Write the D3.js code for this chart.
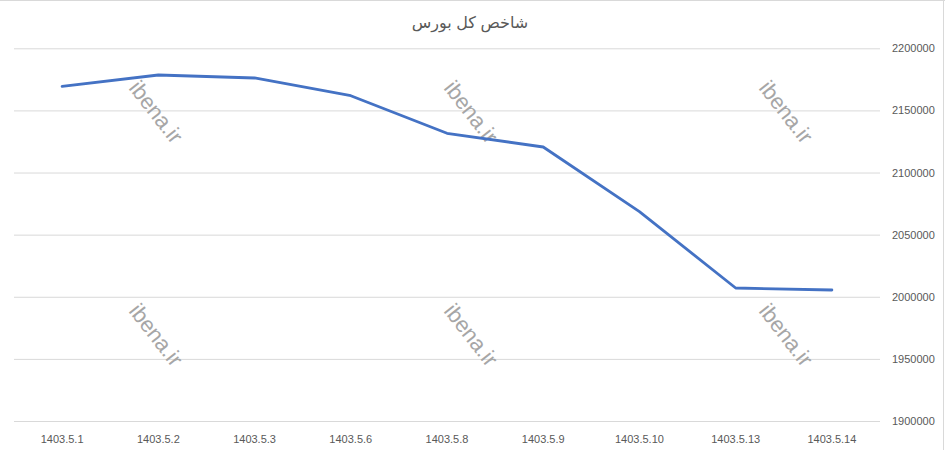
<!DOCTYPE html>
<html>
<head>
<meta charset="utf-8">
<script src="https://cdn.jsdelivr.net/npm/d3@7"></script>
<style>
    body { margin: 0; background: #fff; }
    svg { display: block; }
</style>
</head>
<body>
<div id="chart"></div>
<script>
const title = 'شاخص کل بورس';
const dates = ['1403.5.1', '1403.5.2', '1403.5.3', '1403.5.6', '1403.5.8', '1403.5.9', '1403.5.10', '1403.5.13', '1403.5.14'];
const indexValues = [2169400, 2178500, 2176100, 2161850, 2131600, 2120560, 2068480, 2007070, 2005460];
const yTicks = [1900000, 1950000, 2000000, 2050000, 2100000, 2150000, 2200000];
const watermarkCols = [156, 471, 786];
const watermarkRows = [112, 335];

const W = 945, H = 450;
const plot = { left: 14, right: 880, top: 48.3, bottom: 421 };
const LABEL_FONT = '"Liberation Sans", Arial, sans-serif';

const svg = d3.select('#chart').append('svg')
    .attr('width', W)
    .attr('height', H)
    .attr('viewBox', '0 0 ' + W + ' ' + H);

const x = d3.scaleBand()
    .domain(dates)
    .range([plot.left, plot.right]);

const y = d3.scaleLinear()
    .domain([1900000, 2200000])
    .range([plot.bottom, plot.top]);

// chart frame edges
svg.append('line')
    .attr('x1', 0).attr('x2', W).attr('y1', 0.5).attr('y2', 0.5)
    .attr('stroke', '#d9d9d9');
svg.append('line')
    .attr('x1', 943.5).attr('x2', 943.5).attr('y1', 0).attr('y2', H)
    .attr('stroke', '#d9d9d9');

// gridlines + right-hand axis labels
const yAxis = d3.axisRight(y)
    .tickValues(yTicks)
    .tickSize(plot.right - plot.left)
    .tickPadding(12)
    .tickFormat(d3.format('d'));

svg.append('g')
    .attr('transform', 'translate(' + plot.left + ',0)')
    .call(yAxis)
    .call(g => g.select('.domain').remove())
    .call(g => g.selectAll('.tick line').attr('stroke', '#d9d9d9'))
    .call(g => g.selectAll('.tick text')
        .attr('fill', '#595959')
        .style('font-family', LABEL_FONT)
        .style('font-size', '11px'));

// category labels
const xAxis = d3.axisBottom(x).tickSize(0).tickPadding(14);
svg.append('g')
    .attr('transform', 'translate(0,' + plot.bottom + ')')
    .call(xAxis)
    .call(g => g.select('.domain').remove())
    .call(g => g.selectAll('.tick text')
        .attr('fill', '#595959')
        .style('font-family', LABEL_FONT)
        .style('font-size', '11px'));

// watermarks
watermarkRows.forEach(function (wy) {
    watermarkCols.forEach(function (wx) {
        svg.append('text')
            .attr('transform', 'translate(' + wx + ',' + wy + ')rotate(52)')
            .attr('text-anchor', 'middle')
            .attr('dominant-baseline', 'central')
            .style('font-family', 'Arial, "Liberation Sans", sans-serif')
            .style('font-size', '22px')
            .attr('fill', '#a6a6a6')
            .text('ibena.ir');
    });
});

// series line
const line = d3.line()
    .x((d, i) => x(dates[i]) + x.bandwidth() / 2)
    .y(d => y(d));

svg.append('path')
    .datum(indexValues)
    .attr('fill', 'none')
    .attr('stroke', '#4472c4')
    .attr('stroke-width', 2.8)
    .attr('stroke-linejoin', 'round')
    .attr('stroke-linecap', 'round')
    .attr('d', line);

// title
svg.append('text')
    .attr('x', 470)
    .attr('y', 22)
    .attr('text-anchor', 'middle')
    .attr('dominant-baseline', 'central')
    .attr('direction', 'rtl')
    .style('font-family', 'Arial, "DejaVu Sans", sans-serif')
    .style('font-size', '16px')
    .attr('fill', '#595959')
    .text(title);
</script>
</body>
</html>
